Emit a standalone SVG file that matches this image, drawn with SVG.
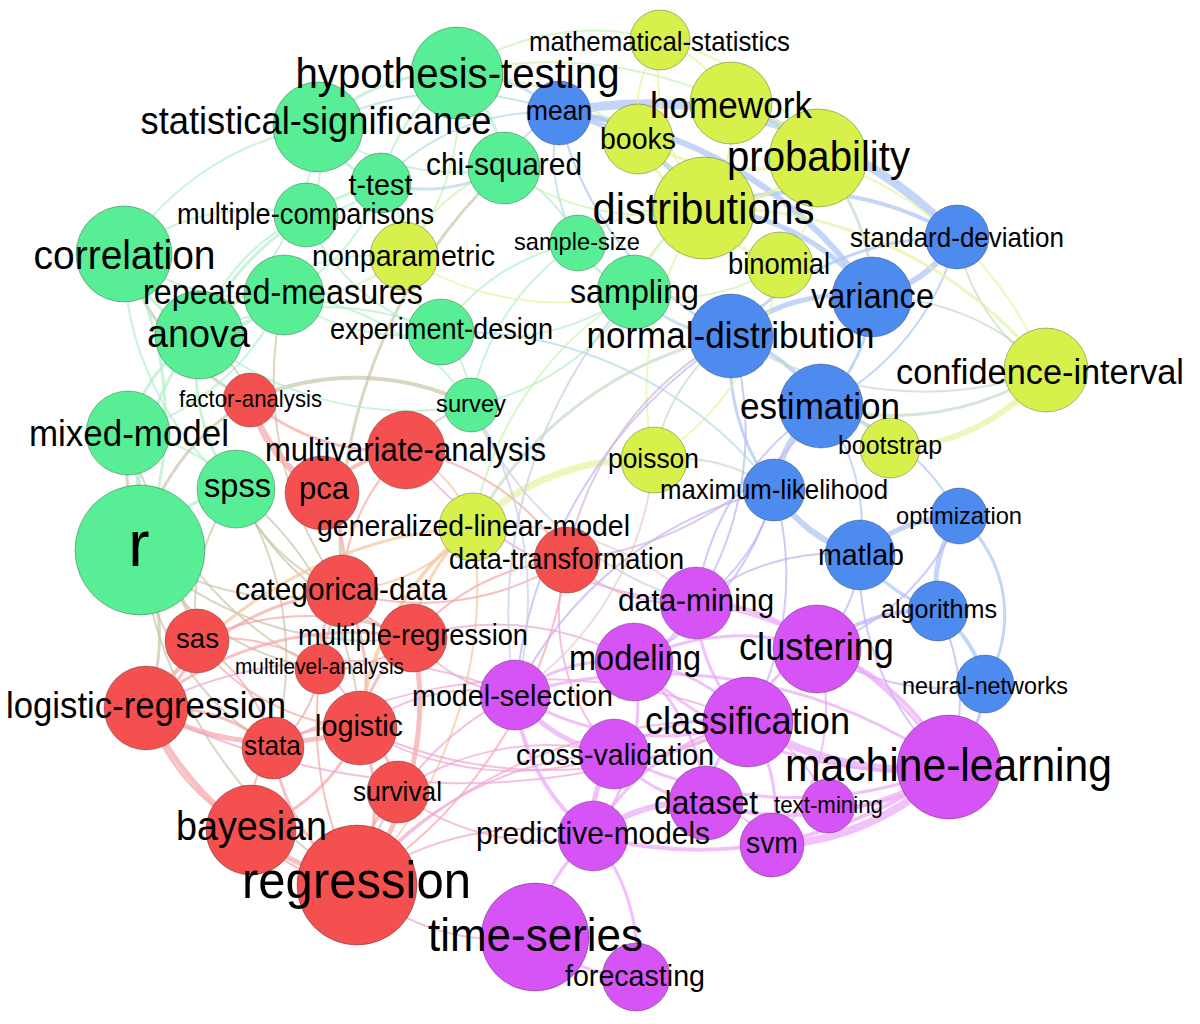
<svg xmlns="http://www.w3.org/2000/svg" width="1200" height="1024" viewBox="0 0 1200 1024">
<style>
.e{fill:none;stroke-linecap:round;stroke-opacity:.7}
.bb{stroke:#a9c5f5}.yy{stroke:#e6f4a0}.gg{stroke:#b2f0cc}.rr{stroke:#f5a5a5}.pp{stroke:#eba6f8}
.gr{stroke:#c9c4a6}.gy{stroke:#cbf2b0}.gb{stroke:#b0d8e4}.by{stroke:#c4dcc4}.bp{stroke:#bfb2f5}
.rp{stroke:#eea7d3}.ry{stroke:#f2c89a}.rb{stroke:#d2b6d2}.yp{stroke:#e8cbd4}.gp{stroke:#c8cfe2}
.n circle{stroke:#000;stroke-opacity:.28;stroke-width:1}
.G{fill:#57ee96}.Y{fill:#d8f04c}.B{fill:#4d8bef}.R{fill:#f45050}.P{fill:#d653f5}
text{font-family:"Liberation Sans",Arial,sans-serif;fill:#000;text-anchor:middle;dominant-baseline:central}
</style>
<rect width="1200" height="1024" fill="#fff"/>
<g id="edges">
<path class="e bb" stroke-width="9" d="M559 113A430 430 0 0 1 957 237"/>
<path class="e bb" stroke-width="6" d="M559 113A420 420 0 0 1 872 297"/>
<path class="e bb" stroke-width="5" d="M559 113A220 220 0 0 1 704 208"/>
<path class="e bb" stroke-width="5" d="M704 208A230 230 0 0 1 872 297"/>
<path class="e bb" stroke-width="4" d="M704 208A300 300 0 0 1 957 237"/>
<path class="e bb" stroke-width="6" d="M872 297A130 130 0 0 0 957 237"/>
<path class="e by" stroke-width="3" d="M818 158A200 200 0 0 1 872 297"/>
<path class="e bb" stroke-width="5" d="M731 336A180 180 0 0 1 872 297"/>
<path class="e bb" stroke-width="3" d="M731 336A300 300 0 0 1 957 237"/>
<path class="e bb" stroke-width="4" d="M731 336A150 150 0 0 1 821 406"/>
<path class="e bb" stroke-width="3" d="M872 297A160 160 0 0 1 821 406"/>
<path class="e bb" stroke-width="2" d="M957 237A260 260 0 0 1 821 406"/>
<path class="e bb" stroke-width="6" d="M821 406A130 130 0 0 0 774 490"/>
<path class="e bb" stroke-width="6" d="M774 490A150 150 0 0 0 860 555"/>
<path class="e bb" stroke-width="2" d="M821 406A200 200 0 0 1 860 555"/>
<path class="e bb" stroke-width="2" d="M821 406A220 220 0 0 1 959 516"/>
<path class="e bb" stroke-width="5" d="M860 555A150 150 0 0 1 959 516"/>
<path class="e bb" stroke-width="5" d="M959 516A120 120 0 0 0 938 611"/>
<path class="e bb" stroke-width="3" d="M959 516A130 130 0 0 1 985 684"/>
<path class="e bb" stroke-width="4" d="M938 611A120 120 0 0 1 985 684"/>
<path class="e bb" stroke-width="3" d="M860 555A160 160 0 0 0 938 611"/>
<path class="e bb" stroke-width="3" d="M731 336A220 220 0 0 0 774 490"/>
<path class="e bb" stroke-width="2" d="M559 113A330 330 0 0 0 731 336"/>
<path class="e bb" stroke-width="3" d="M559 113A120 120 0 0 1 638 139"/>
<path class="e by" stroke-width="3" d="M821 406A120 120 0 0 1 890 448"/>
<path class="e by" stroke-width="3" d="M821 406A280 280 0 0 0 1046 370"/>
<path class="e yy" stroke-width="6" d="M890 448A200 200 0 0 0 1046 370"/>
<path class="e by" stroke-width="2" d="M1046 370A240 240 0 0 0 872 297"/>
<path class="e by" stroke-width="2" d="M1046 370A360 360 0 0 1 731 336"/>
<path class="e by" stroke-width="2" d="M1046 370A200 200 0 0 1 957 237"/>
<path class="e yy" stroke-width="3" d="M1046 370A420 420 0 0 0 704 208"/>
<path class="e yy" stroke-width="2" d="M1046 370A360 360 0 0 0 818 158"/>
<path class="e bp" stroke-width="3" d="M985 684A130 130 0 0 1 949 767"/>
<path class="e bp" stroke-width="2" d="M938 611A200 200 0 0 1 949 767"/>
<path class="e bp" stroke-width="4" d="M938 611A170 170 0 0 0 817 649"/>
<path class="e bp" stroke-width="2" d="M860 555A140 140 0 0 1 817 649"/>
<path class="e bp" stroke-width="2" d="M860 555A220 220 0 0 0 696 603"/>
<path class="e bp" stroke-width="2" d="M817 649A220 220 0 0 0 985 684"/>
<path class="e by" stroke-width="2" d="M774 490A160 160 0 0 0 654 460"/>
<path class="e bp" stroke-width="2" d="M774 490A180 180 0 0 1 696 603"/>
<path class="e bp" stroke-width="2" d="M959 516A240 240 0 0 1 817 649"/>
<path class="e yy" stroke-width="2" d="M660 40A130 130 0 0 1 731 103"/>
<path class="e gy" stroke-width="2" d="M457 73A240 240 0 0 1 660 40"/>
<path class="e yy" stroke-width="2" d="M660 40A240 240 0 0 1 818 158"/>
<path class="e yy" stroke-width="2" d="M660 40A230 230 0 0 0 704 208"/>
<path class="e yy" stroke-width="2" d="M660 40A140 140 0 0 0 638 139"/>
<path class="e yy" stroke-width="3" d="M731 103A140 140 0 0 1 818 158"/>
<path class="e yy" stroke-width="3" d="M731 103A140 140 0 0 1 704 208"/>
<path class="e yy" stroke-width="4" d="M818 158A160 160 0 0 1 704 208"/>
<path class="e yy" stroke-width="3" d="M704 208A130 130 0 0 0 780 265"/>
<path class="e yy" stroke-width="3" d="M638 139A130 130 0 0 0 704 208"/>
<path class="e yy" stroke-width="2" d="M818 158A150 150 0 0 1 780 265"/>
<path class="e yy" stroke-width="2" d="M731 103A140 140 0 0 0 638 139"/>
<path class="e yy" stroke-width="3" d="M638 139A220 220 0 0 0 818 158"/>
<path class="e yy" stroke-width="7" d="M473 527A240 240 0 0 1 654 460"/>
<path class="e by" stroke-width="3" d="M473 527A380 380 0 0 1 731 336"/>
<path class="e gy" stroke-width="2" d="M473 527A340 340 0 0 1 634 292"/>
<path class="e yy" stroke-width="2" d="M654 460A320 320 0 0 1 704 208"/>
<path class="e by" stroke-width="2" d="M654 460A190 190 0 0 1 731 336"/>
<path class="e yy" stroke-width="2" d="M654 460A280 280 0 0 0 780 265"/>
<path class="e gy" stroke-width="3" d="M634 292A140 140 0 0 1 704 208"/>
<path class="e gb" stroke-width="3" d="M634 292A140 140 0 0 0 731 336"/>
<path class="e gy" stroke-width="2" d="M578 243A170 170 0 0 1 704 208"/>
<path class="e gg" stroke-width="3" d="M578 243A100 100 0 0 0 634 292"/>
<path class="e gb" stroke-width="2" d="M578 243A170 170 0 0 1 559 113"/>
<path class="e gg" stroke-width="2" d="M578 243A140 140 0 0 0 504 168"/>
<path class="e gy" stroke-width="2" d="M634 292A180 180 0 0 0 780 265"/>
<path class="e gy" stroke-width="2" d="M457 73A420 420 0 0 1 818 158"/>
<path class="e gy" stroke-width="2" d="M504 168A240 240 0 0 0 704 208"/>
<path class="e gy" stroke-width="2" d="M457 73A320 320 0 0 1 704 208"/>
<path class="e gg" stroke-width="3" d="M457 73A190 190 0 0 0 318 127"/>
<path class="e gg" stroke-width="3" d="M457 73A140 140 0 0 1 504 168"/>
<path class="e gg" stroke-width="2" d="M457 73A180 180 0 0 0 381 183"/>
<path class="e gb" stroke-width="3" d="M457 73A150 150 0 0 1 559 113"/>
<path class="e gy" stroke-width="2" d="M457 73A240 240 0 0 1 404 256"/>
<path class="e gg" stroke-width="3" d="M318 127A110 110 0 0 0 381 183"/>
<path class="e gg" stroke-width="2" d="M318 127A120 120 0 0 1 306 215"/>
<path class="e gg" stroke-width="2" d="M318 127A240 240 0 0 0 504 168"/>
<path class="e gg" stroke-width="2" d="M318 127A280 280 0 0 0 124 254"/>
<path class="e gg" stroke-width="2" d="M318 127A290 290 0 0 1 199 335"/>
<path class="e gg" stroke-width="3" d="M381 183A280 280 0 0 0 199 335"/>
<path class="e gb" stroke-width="3" d="M381 183A160 160 0 0 0 504 168"/>
<path class="e gg" stroke-width="2" d="M381 183A110 110 0 0 1 306 215"/>
<path class="e gy" stroke-width="2" d="M381 183A100 100 0 0 1 404 256"/>
<path class="e gg" stroke-width="2" d="M381 183A190 190 0 0 1 284 295"/>
<path class="e gg" stroke-width="2" d="M306 215A200 200 0 0 0 199 335"/>
<path class="e gg" stroke-width="2" d="M124 254A210 210 0 0 0 284 295"/>
<path class="e gg" stroke-width="3" d="M124 254A150 150 0 0 0 199 335"/>
<path class="e gr" stroke-width="3" d="M124 254A240 240 0 0 0 250 400"/>
<path class="e gg" stroke-width="3" d="M124 254A350 350 0 0 1 140 550"/>
<path class="e gg" stroke-width="4" d="M284 295A130 130 0 0 1 199 335"/>
<path class="e gg" stroke-width="2" d="M284 295A250 250 0 0 1 128 433"/>
<path class="e gg" stroke-width="3" d="M199 335A160 160 0 0 0 128 433"/>
<path class="e gg" stroke-width="2" d="M199 335A290 290 0 0 1 441 332"/>
<path class="e gg" stroke-width="3" d="M199 335A270 270 0 0 0 140 550"/>
<path class="e gg" stroke-width="2" d="M284 295A200 200 0 0 0 441 332"/>
<path class="e gg" stroke-width="2" d="M441 332A110 110 0 0 1 471 405"/>
<path class="e gg" stroke-width="2" d="M441 332A210 210 0 0 1 578 243"/>
<path class="e gg" stroke-width="2" d="M441 332A240 240 0 0 0 634 292"/>
<path class="e gy" stroke-width="2" d="M441 332A110 110 0 0 1 404 256"/>
<path class="e gr" stroke-width="3" d="M504 168A520 520 0 0 0 342 591"/>
<path class="e gb" stroke-width="2" d="M504 168A110 110 0 0 1 559 113"/>
<path class="e gg" stroke-width="2" d="M471 405A240 240 0 0 1 578 243"/>
<path class="e gg" stroke-width="2" d="M471 405A240 240 0 0 0 634 292"/>
<path class="e gg" stroke-width="5" d="M128 433A300 300 0 0 1 140 550"/>
<path class="e gr" stroke-width="3" d="M128 433A300 300 0 0 0 140 550"/>
<path class="e gg" stroke-width="2" d="M128 433A160 160 0 0 1 236 489"/>
<path class="e gg" stroke-width="3" d="M236 489A150 150 0 0 0 140 550"/>
<path class="e gg" stroke-width="3" d="M236 489A200 200 0 0 1 199 335"/>
<path class="e gr" stroke-width="4" d="M140 550A150 150 0 0 1 197 641"/>
<path class="e gr" stroke-width="3" d="M140 550A200 200 0 0 1 146 708"/>
<path class="e gr" stroke-width="2" d="M140 550A280 280 0 0 0 273 748"/>
<path class="e gr" stroke-width="2" d="M140 550A250 250 0 0 0 342 591"/>
<path class="e gr" stroke-width="2" d="M140 550A260 260 0 0 0 320 669"/>
<path class="e gr" stroke-width="3" d="M140 550A230 230 0 0 1 250 400"/>
<path class="e gr" stroke-width="2" d="M140 550A340 340 0 0 0 413 638"/>
<path class="e gr" stroke-width="2" d="M140 550A460 460 0 0 0 357 885"/>
<path class="e gr" stroke-width="2" d="M236 489A200 200 0 0 0 197 641"/>
<path class="e gr" stroke-width="2" d="M236 489A310 310 0 0 1 273 748"/>
<path class="e gr" stroke-width="2" d="M236 489A190 190 0 0 0 342 591"/>
<path class="e gr" stroke-width="2" d="M236 489A280 280 0 0 0 413 638"/>
<path class="e gr" stroke-width="2" d="M236 489A320 320 0 0 1 360 728"/>
<path class="e gr" stroke-width="2" d="M284 295A360 360 0 0 0 342 591"/>
<path class="e gr" stroke-width="2" d="M199 335A120 120 0 0 1 250 400"/>
<path class="e gr" stroke-width="2" d="M128 433A360 360 0 0 0 320 669"/>
<path class="e gr" stroke-width="4" d="M250 400A260 260 0 0 1 471 405"/>
<path class="e gr" stroke-width="2" d="M471 405A130 130 0 0 0 406 450"/>
<path class="e gg" stroke-width="2" d="M124 254A300 300 0 0 0 236 489"/>
<path class="e gg" stroke-width="2" d="M199 335A330 330 0 0 0 471 405"/>
<path class="e gg" stroke-width="2" d="M284 295A250 250 0 0 1 471 405"/>
<path class="e gg" stroke-width="2" d="M306 215A200 200 0 0 0 441 332"/>
<path class="e gg" stroke-width="2" d="M124 254A220 220 0 0 1 306 215"/>
<path class="e gy" stroke-width="2" d="M404 256A250 250 0 0 0 199 335"/>
<path class="e gy" stroke-width="2" d="M404 256A160 160 0 0 1 284 295"/>
<path class="e yy" stroke-width="2" d="M404 256A280 280 0 0 0 634 292"/>
<path class="e gy" stroke-width="2" d="M404 256A170 170 0 0 1 504 168"/>
<path class="e rr" stroke-width="3" d="M250 400A210 210 0 0 0 406 450"/>
<path class="e rr" stroke-width="7" d="M250 400A160 160 0 0 0 322 493"/>
<path class="e rr" stroke-width="4" d="M322 493A130 130 0 0 1 406 450"/>
<path class="e rr" stroke-width="2" d="M406 450A200 200 0 0 0 342 591"/>
<path class="e rr" stroke-width="3" d="M322 493A130 130 0 0 1 342 591"/>
<path class="e rr" stroke-width="3" d="M342 591A120 120 0 0 0 413 638"/>
<path class="e rr" stroke-width="3" d="M342 591A180 180 0 0 1 360 728"/>
<path class="e rr" stroke-width="3" d="M342 591A280 280 0 0 0 146 708"/>
<path class="e rr" stroke-width="2" d="M342 591A350 350 0 0 0 357 885"/>
<path class="e rr" stroke-width="5" d="M413 638A300 300 0 0 1 357 885"/>
<path class="e rr" stroke-width="3" d="M413 638A140 140 0 0 0 360 728"/>
<path class="e rr" stroke-width="3" d="M413 638A320 320 0 0 0 146 708"/>
<path class="e rr" stroke-width="2" d="M413 638A130 130 0 0 1 320 669"/>
<path class="e rr" stroke-width="5" d="M360 728A260 260 0 0 1 146 708"/>
<path class="e rr" stroke-width="5" d="M146 708A330 330 0 0 0 357 885"/>
<path class="e rr" stroke-width="3" d="M146 708A170 170 0 0 1 273 748"/>
<path class="e rr" stroke-width="3" d="M146 708A110 110 0 0 0 197 641"/>
<path class="e rr" stroke-width="3" d="M146 708A210 210 0 0 0 251 830"/>
<path class="e rr" stroke-width="2" d="M273 748A170 170 0 0 0 197 641"/>
<path class="e rr" stroke-width="3" d="M273 748A120 120 0 0 1 360 728"/>
<path class="e rr" stroke-width="2" d="M273 748A120 120 0 0 0 320 669"/>
<path class="e rr" stroke-width="3" d="M273 748A200 200 0 0 0 357 885"/>
<path class="e rr" stroke-width="2" d="M197 641A220 220 0 0 0 360 728"/>
<path class="e rr" stroke-width="2" d="M197 641A260 260 0 0 1 413 638"/>
<path class="e rr" stroke-width="2" d="M197 641A160 160 0 0 1 320 669"/>
<path class="e rr" stroke-width="3" d="M360 728A100 100 0 0 1 398 792"/>
<path class="e rr" stroke-width="3" d="M398 792A140 140 0 0 0 357 885"/>
<path class="e rr" stroke-width="3" d="M360 728A200 200 0 0 1 357 885"/>
<path class="e rr" stroke-width="2" d="M251 830A150 150 0 0 0 357 885"/>
<path class="e rr" stroke-width="2" d="M251 830A110 110 0 0 1 273 748"/>
<path class="e rr" stroke-width="3" d="M251 830A180 180 0 0 0 360 728"/>
<path class="e rr" stroke-width="2" d="M320 669A100 100 0 0 1 360 728"/>
<path class="e rr" stroke-width="2" d="M320 669A110 110 0 0 1 342 591"/>
<path class="e ry" stroke-width="3" d="M473 527A430 430 0 0 0 146 708"/>
<path class="e ry" stroke-width="4" d="M473 527A280 280 0 0 0 360 728"/>
<path class="e ry" stroke-width="2" d="M473 527A430 430 0 0 1 357 885"/>
<path class="e ry" stroke-width="3" d="M473 527A160 160 0 0 0 413 638"/>
<path class="e ry" stroke-width="2" d="M473 527A190 190 0 0 1 342 591"/>
<path class="e ry" stroke-width="2" d="M473 527A130 130 0 0 0 406 450"/>
<path class="e rr" stroke-width="2" d="M567 560A220 220 0 0 0 413 638"/>
<path class="e rr" stroke-width="2" d="M567 560A460 460 0 0 1 357 885"/>
<path class="e rr" stroke-width="2" d="M567 560A270 270 0 0 1 342 591"/>
<path class="e rr" stroke-width="2" d="M567 560A240 240 0 0 0 406 450"/>
<path class="e rp" stroke-width="2" d="M357 885A300 300 0 0 1 515 695"/>
<path class="e rp" stroke-width="2" d="M357 885A340 340 0 0 1 614 754"/>
<path class="e rp" stroke-width="2" d="M357 885A290 290 0 0 1 593 836"/>
<path class="e rp" stroke-width="2" d="M357 885A220 220 0 0 0 535 937"/>
<path class="e rp" stroke-width="2" d="M357 885A480 480 0 0 1 748 722"/>
<path class="e rp" stroke-width="2" d="M360 728A440 440 0 0 0 748 722"/>
<path class="e rp" stroke-width="2" d="M360 728A190 190 0 0 1 515 695"/>
<path class="e rp" stroke-width="2" d="M360 728A300 300 0 0 0 614 754"/>
<path class="e rp" stroke-width="2" d="M273 748A540 540 0 0 1 748 722"/>
<path class="e rp" stroke-width="2" d="M146 708A700 700 0 0 0 748 722"/>
<path class="e rp" stroke-width="2" d="M146 708A440 440 0 0 1 515 695"/>
<path class="e rp" stroke-width="2" d="M398 792A240 240 0 0 0 593 836"/>
<path class="e rp" stroke-width="2" d="M398 792A260 260 0 0 1 614 754"/>
<path class="e rp" stroke-width="2" d="M413 638A150 150 0 0 0 515 695"/>
<path class="e rp" stroke-width="2" d="M413 638A270 270 0 0 1 634 662"/>
<path class="e rp" stroke-width="2" d="M406 450A400 400 0 0 0 696 603"/>
<path class="e rp" stroke-width="2" d="M567 560A170 170 0 0 0 696 603"/>
<path class="e rp" stroke-width="2" d="M567 560A200 200 0 0 0 614 754"/>
<path class="e pp" stroke-width="8" d="M748 722A300 300 0 0 0 949 767"/>
<path class="e pp" stroke-width="8" d="M772 845A260 260 0 0 0 949 767"/>
<path class="e pp" stroke-width="4" d="M817 649A220 220 0 0 1 949 767"/>
<path class="e pp" stroke-width="4" d="M696 603A170 170 0 0 1 817 649"/>
<path class="e pp" stroke-width="3" d="M696 603A350 350 0 0 1 949 767"/>
<path class="e pp" stroke-width="3" d="M696 603A120 120 0 0 1 634 662"/>
<path class="e pp" stroke-width="3" d="M696 603A170 170 0 0 0 748 722"/>
<path class="e pp" stroke-width="3" d="M634 662A170 170 0 0 1 748 722"/>
<path class="e pp" stroke-width="3" d="M634 662A230 230 0 0 1 817 649"/>
<path class="e pp" stroke-width="3" d="M634 662A160 160 0 0 0 515 695"/>
<path class="e pp" stroke-width="3" d="M634 662A380 380 0 0 0 949 767"/>
<path class="e pp" stroke-width="5" d="M515 695A150 150 0 0 0 614 754"/>
<path class="e pp" stroke-width="3" d="M515 695A500 500 0 0 1 949 767"/>
<path class="e pp" stroke-width="4" d="M515 695A200 200 0 0 0 593 836"/>
<path class="e pp" stroke-width="3" d="M515 695A280 280 0 0 0 748 722"/>
<path class="e pp" stroke-width="3" d="M614 754A180 180 0 0 1 748 722"/>
<path class="e pp" stroke-width="5" d="M614 754A120 120 0 0 0 593 836"/>
<path class="e pp" stroke-width="3" d="M614 754A140 140 0 0 0 706 803"/>
<path class="e pp" stroke-width="3" d="M614 754A400 400 0 0 0 949 767"/>
<path class="e pp" stroke-width="6" d="M593 836A160 160 0 0 1 706 803"/>
<path class="e pp" stroke-width="4" d="M593 836A420 420 0 0 0 949 767"/>
<path class="e pp" stroke-width="3" d="M593 836A230 230 0 0 1 748 722"/>
<path class="e pp" stroke-width="4" d="M706 803A290 290 0 0 0 949 767"/>
<path class="e pp" stroke-width="3" d="M706 803A120 120 0 0 1 748 722"/>
<path class="e pp" stroke-width="2" d="M706 803A110 110 0 0 1 772 845"/>
<path class="e pp" stroke-width="3" d="M748 722A160 160 0 0 1 772 845"/>
<path class="e pp" stroke-width="3" d="M828 806A160 160 0 0 0 949 767"/>
<path class="e pp" stroke-width="2" d="M828 806A150 150 0 0 0 748 722"/>
<path class="e pp" stroke-width="3" d="M593 836A160 160 0 0 0 535 937"/>
<path class="e pp" stroke-width="3" d="M593 836A190 190 0 0 1 636 977"/>
<path class="e pp" stroke-width="3" d="M535 937A150 150 0 0 0 636 977"/>
<path class="e pp" stroke-width="3" d="M817 649A130 130 0 0 0 748 722"/>
<path class="e pp" stroke-width="3" d="M634 662A220 220 0 0 1 593 836"/>
<path class="e pp" stroke-width="3" d="M634 662A200 200 0 0 1 706 803"/>
<path class="e pp" stroke-width="2" d="M817 649A200 200 0 0 1 772 845"/>
<path class="e bp" stroke-width="2" d="M731 336A480 480 0 0 0 515 695"/>
<path class="e bp" stroke-width="2" d="M731 336A320 320 0 0 1 696 603"/>
<path class="e bp" stroke-width="2" d="M821 406A280 280 0 0 0 696 603"/>
<path class="e bp" stroke-width="2" d="M774 490A380 380 0 0 0 515 695"/>
<path class="e bp" stroke-width="2" d="M774 490A260 260 0 0 1 634 662"/>
<path class="e bp" stroke-width="2" d="M860 555A270 270 0 0 0 949 767"/>
<path class="e bp" stroke-width="2" d="M774 490A300 300 0 0 1 748 722"/>
<path class="e gp" stroke-width="2" d="M634 292A480 480 0 0 0 515 695"/>
<path class="e yp" stroke-width="2" d="M654 460A320 320 0 0 1 515 695"/>
<path class="e yp" stroke-width="2" d="M473 527A280 280 0 0 1 696 603"/>
<path class="e gp" stroke-width="2" d="M471 405A350 350 0 0 0 696 603"/>
<path class="e gp" stroke-width="2" d="M471 405A360 360 0 0 1 515 695"/>
<path class="e gb" stroke-width="2" d="M441 332A400 400 0 0 1 774 490"/>
<path class="e rb" stroke-width="2" d="M567 560A320 320 0 0 1 731 336"/>
<path class="e rb" stroke-width="2" d="M567 560A340 340 0 0 0 821 406"/>
<path class="e gb" stroke-width="2" d="M381 183A220 220 0 0 1 559 113"/>
<path class="e gb" stroke-width="2" d="M318 127A290 290 0 0 1 559 113"/>
</g>
<g id="nodes">
<g id="node-hypothesis-testing" class="n"><circle class="G" cx="457" cy="73" r="46"/></g>
<g id="node-statistical-significance" class="n"><circle class="G" cx="318" cy="127" r="45"/></g>
<g id="node-t-test" class="n"><circle class="G" cx="381" cy="183" r="30"/></g>
<g id="node-chi-squared" class="n"><circle class="G" cx="504" cy="168" r="36"/></g>
<g id="node-multiple-comparisons" class="n"><circle class="G" cx="306" cy="215" r="32"/></g>
<g id="node-correlation" class="n"><circle class="G" cx="124" cy="254" r="48"/></g>
<g id="node-repeated-measures" class="n"><circle class="G" cx="284" cy="295" r="40"/></g>
<g id="node-anova" class="n"><circle class="G" cx="199" cy="335" r="44"/></g>
<g id="node-experiment-design" class="n"><circle class="G" cx="441" cy="332" r="33"/></g>
<g id="node-sample-size" class="n"><circle class="G" cx="578" cy="243" r="28"/></g>
<g id="node-sampling" class="n"><circle class="G" cx="634" cy="292" r="37"/></g>
<g id="node-survey" class="n"><circle class="G" cx="471" cy="405" r="27"/></g>
<g id="node-mixed-model" class="n"><circle class="G" cx="128" cy="433" r="42"/></g>
<g id="node-spss" class="n"><circle class="G" cx="236" cy="489" r="39"/></g>
<g id="node-r" class="n"><circle class="G" cx="140" cy="550" r="65"/></g>
<g id="node-mathematical-statistics" class="n"><circle class="Y" cx="660" cy="40" r="30"/></g>
<g id="node-homework" class="n"><circle class="Y" cx="731" cy="103" r="41"/></g>
<g id="node-books" class="n"><circle class="Y" cx="638" cy="139" r="35"/></g>
<g id="node-probability" class="n"><circle class="Y" cx="818" cy="158" r="49"/></g>
<g id="node-distributions" class="n"><circle class="Y" cx="704" cy="208" r="51"/></g>
<g id="node-nonparametric" class="n"><circle class="Y" cx="404" cy="256" r="34"/></g>
<g id="node-binomial" class="n"><circle class="Y" cx="780" cy="265" r="33"/></g>
<g id="node-confidence-interval" class="n"><circle class="Y" cx="1046" cy="370" r="42"/></g>
<g id="node-poisson" class="n"><circle class="Y" cx="654" cy="460" r="33"/></g>
<g id="node-bootstrap" class="n"><circle class="Y" cx="890" cy="448" r="30"/></g>
<g id="node-generalized-linear-model" class="n"><circle class="Y" cx="473" cy="527" r="34"/></g>
<g id="node-mean" class="n"><circle class="B" cx="559" cy="113" r="32"/></g>
<g id="node-standard-deviation" class="n"><circle class="B" cx="957" cy="237" r="32"/></g>
<g id="node-variance" class="n"><circle class="B" cx="872" cy="297" r="40"/></g>
<g id="node-normal-distribution" class="n"><circle class="B" cx="731" cy="336" r="42"/></g>
<g id="node-estimation" class="n"><circle class="B" cx="821" cy="406" r="42"/></g>
<g id="node-maximum-likelihood" class="n"><circle class="B" cx="774" cy="490" r="31"/></g>
<g id="node-optimization" class="n"><circle class="B" cx="959" cy="516" r="28"/></g>
<g id="node-matlab" class="n"><circle class="B" cx="860" cy="555" r="35"/></g>
<g id="node-algorithms" class="n"><circle class="B" cx="938" cy="611" r="30"/></g>
<g id="node-neural-networks" class="n"><circle class="B" cx="985" cy="684" r="29"/></g>
<g id="node-factor-analysis" class="n"><circle class="R" cx="250" cy="400" r="27"/></g>
<g id="node-multivariate-analysis" class="n"><circle class="R" cx="406" cy="450" r="39"/></g>
<g id="node-pca" class="n"><circle class="R" cx="322" cy="493" r="37"/></g>
<g id="node-data-transformation" class="n"><circle class="R" cx="567" cy="560" r="33"/></g>
<g id="node-categorical-data" class="n"><circle class="R" cx="342" cy="591" r="36"/></g>
<g id="node-multiple-regression" class="n"><circle class="R" cx="413" cy="638" r="34"/></g>
<g id="node-sas" class="n"><circle class="R" cx="197" cy="641" r="32"/></g>
<g id="node-multilevel-analysis" class="n"><circle class="R" cx="320" cy="669" r="25"/></g>
<g id="node-logistic-regression" class="n"><circle class="R" cx="146" cy="708" r="42"/></g>
<g id="node-logistic" class="n"><circle class="R" cx="360" cy="728" r="37"/></g>
<g id="node-stata" class="n"><circle class="R" cx="273" cy="748" r="31"/></g>
<g id="node-survival" class="n"><circle class="R" cx="398" cy="792" r="31"/></g>
<g id="node-bayesian" class="n"><circle class="R" cx="251" cy="830" r="45"/></g>
<g id="node-regression" class="n"><circle class="R" cx="357" cy="885" r="60"/></g>
<g id="node-data-mining" class="n"><circle class="P" cx="696" cy="603" r="36"/></g>
<g id="node-modeling" class="n"><circle class="P" cx="634" cy="662" r="39"/></g>
<g id="node-clustering" class="n"><circle class="P" cx="817" cy="649" r="44"/></g>
<g id="node-model-selection" class="n"><circle class="P" cx="515" cy="695" r="35"/></g>
<g id="node-classification" class="n"><circle class="P" cx="748" cy="722" r="45"/></g>
<g id="node-cross-validation" class="n"><circle class="P" cx="614" cy="754" r="35"/></g>
<g id="node-machine-learning" class="n"><circle class="P" cx="949" cy="767" r="52"/></g>
<g id="node-dataset" class="n"><circle class="P" cx="706" cy="803" r="37"/></g>
<g id="node-text-mining" class="n"><circle class="P" cx="828" cy="806" r="27"/></g>
<g id="node-svm" class="n"><circle class="P" cx="772" cy="845" r="32"/></g>
<g id="node-predictive-models" class="n"><circle class="P" cx="593" cy="836" r="35"/></g>
<g id="node-time-series" class="n"><circle class="P" cx="535" cy="937" r="54"/></g>
<g id="node-forecasting" class="n"><circle class="P" cx="636" cy="977" r="34"/></g>
</g>
<g id="labels" style="font-kerning:none">
<text x="457.5" y="73" font-size="42.8" textLength="324" lengthAdjust="spacingAndGlyphs">hypothesis-testing</text>
<text x="316" y="120" font-size="38.5" textLength="351" lengthAdjust="spacingAndGlyphs">statistical-significance</text>
<text x="659.5" y="41" font-size="27.3" textLength="261" lengthAdjust="spacingAndGlyphs">mathematical-statistics</text>
<text x="559" y="110" font-size="27.4" textLength="66" lengthAdjust="spacingAndGlyphs">mean</text>
<text x="731" y="105" font-size="37" textLength="162" lengthAdjust="spacingAndGlyphs">homework</text>
<text x="638" y="138" font-size="29.6" textLength="76" lengthAdjust="spacingAndGlyphs">books</text>
<text x="818.5" y="156" font-size="42.3" textLength="183" lengthAdjust="spacingAndGlyphs">probability</text>
<text x="504" y="164" font-size="31.5" textLength="156" lengthAdjust="spacingAndGlyphs">chi-squared</text>
<text x="380.5" y="184" font-size="29.5" textLength="64" lengthAdjust="spacingAndGlyphs">t-test</text>
<text x="305.5" y="214" font-size="28.9" textLength="257" lengthAdjust="spacingAndGlyphs">multiple-comparisons</text>
<text x="703.5" y="208" font-size="44" textLength="222" lengthAdjust="spacingAndGlyphs">distributions</text>
<text x="124.5" y="255" font-size="41" textLength="182" lengthAdjust="spacingAndGlyphs">correlation</text>
<text x="403.5" y="255" font-size="30.3" textLength="183" lengthAdjust="spacingAndGlyphs">nonparametric</text>
<text x="577" y="241" font-size="24.8" textLength="126" lengthAdjust="spacingAndGlyphs">sample-size</text>
<text x="957" y="237" font-size="27.6" textLength="214" lengthAdjust="spacingAndGlyphs">standard-deviation</text>
<text x="779" y="264" font-size="28.8" textLength="102" lengthAdjust="spacingAndGlyphs">binomial</text>
<text x="283" y="292" font-size="34.3" textLength="280" lengthAdjust="spacingAndGlyphs">repeated-measures</text>
<text x="634.5" y="291" font-size="34" textLength="129" lengthAdjust="spacingAndGlyphs">sampling</text>
<text x="872.5" y="296" font-size="34.2" textLength="123" lengthAdjust="spacingAndGlyphs">variance</text>
<text x="198.5" y="333" font-size="39.6" textLength="103" lengthAdjust="spacingAndGlyphs">anova</text>
<text x="441.5" y="329" font-size="28.8" textLength="223" lengthAdjust="spacingAndGlyphs">experiment-design</text>
<text x="730.5" y="335" font-size="37.1" textLength="288" lengthAdjust="spacingAndGlyphs">normal-distribution</text>
<text x="1040" y="371" font-size="34.8" textLength="288" lengthAdjust="spacingAndGlyphs">confidence-interval</text>
<text x="250.5" y="399" font-size="23.4" textLength="143" lengthAdjust="spacingAndGlyphs">factor-analysis</text>
<text x="471" y="403" font-size="24.6" textLength="70" lengthAdjust="spacingAndGlyphs">survey</text>
<text x="820" y="406" font-size="37.1" textLength="160" lengthAdjust="spacingAndGlyphs">estimation</text>
<text x="129" y="433" font-size="37" textLength="200" lengthAdjust="spacingAndGlyphs">mixed-model</text>
<text x="405.5" y="449" font-size="33" textLength="281" lengthAdjust="spacingAndGlyphs">multivariate-analysis</text>
<text x="653.5" y="458" font-size="27.6" textLength="91" lengthAdjust="spacingAndGlyphs">poisson</text>
<text x="890" y="445" font-size="26.2" textLength="104" lengthAdjust="spacingAndGlyphs">bootstrap</text>
<text x="237.5" y="485" font-size="33.8" textLength="67" lengthAdjust="spacingAndGlyphs">spss</text>
<text x="324" y="488" font-size="32" textLength="50" lengthAdjust="spacingAndGlyphs">pca</text>
<text x="774" y="489" font-size="27.4" textLength="228" lengthAdjust="spacingAndGlyphs">maximum-likelihood</text>
<text x="959" y="515" font-size="24" textLength="126" lengthAdjust="spacingAndGlyphs">optimization</text>
<text x="473.5" y="525" font-size="30.3" textLength="313" lengthAdjust="spacingAndGlyphs">generalized-linear-model</text>
<text x="139" y="544" font-size="64">r</text>
<text x="566.5" y="559" font-size="28.8" textLength="235" lengthAdjust="spacingAndGlyphs">data-transformation</text>
<text x="861" y="554" font-size="30" textLength="86" lengthAdjust="spacingAndGlyphs">matlab</text>
<text x="341" y="589" font-size="31.6" textLength="212" lengthAdjust="spacingAndGlyphs">categorical-data</text>
<text x="696" y="600" font-size="31.6" textLength="156" lengthAdjust="spacingAndGlyphs">data-mining</text>
<text x="939" y="609" font-size="26.4" textLength="116" lengthAdjust="spacingAndGlyphs">algorithms</text>
<text x="197.5" y="638" font-size="28.1" textLength="43" lengthAdjust="spacingAndGlyphs">sas</text>
<text x="413" y="635" font-size="28.9" textLength="230" lengthAdjust="spacingAndGlyphs">multiple-regression</text>
<text x="635" y="658" font-size="34.2" textLength="132" lengthAdjust="spacingAndGlyphs">modeling</text>
<text x="816.5" y="646" font-size="38.3" textLength="155" lengthAdjust="spacingAndGlyphs">clustering</text>
<text x="319.5" y="666" font-size="22" textLength="169" lengthAdjust="spacingAndGlyphs">multilevel-analysis</text>
<text x="985" y="685" font-size="24.6" textLength="166" lengthAdjust="spacingAndGlyphs">neural-networks</text>
<text x="146" y="705" font-size="36.9" textLength="280" lengthAdjust="spacingAndGlyphs">logistic-regression</text>
<text x="512.5" y="695" font-size="30.4" textLength="201" lengthAdjust="spacingAndGlyphs">model-selection</text>
<text x="747.5" y="720" font-size="38.3" textLength="205" lengthAdjust="spacingAndGlyphs">classification</text>
<text x="359" y="725" font-size="30" textLength="88" lengthAdjust="spacingAndGlyphs">logistic</text>
<text x="272.5" y="745" font-size="27.2" textLength="57" lengthAdjust="spacingAndGlyphs">stata</text>
<text x="615" y="754" font-size="30.2" textLength="198" lengthAdjust="spacingAndGlyphs">cross-validation</text>
<text x="948.5" y="765" font-size="45.4" textLength="327" lengthAdjust="spacingAndGlyphs">machine-learning</text>
<text x="397.5" y="791" font-size="27.5" textLength="89" lengthAdjust="spacingAndGlyphs">survival</text>
<text x="706" y="802" font-size="33.2" textLength="104" lengthAdjust="spacingAndGlyphs">dataset</text>
<text x="828.5" y="805" font-size="23.4" textLength="109" lengthAdjust="spacingAndGlyphs">text-mining</text>
<text x="772" y="843" font-size="29.2" textLength="52" lengthAdjust="spacingAndGlyphs">svm</text>
<text x="593" y="833" font-size="31.7" textLength="234" lengthAdjust="spacingAndGlyphs">predictive-models</text>
<text x="251.5" y="826" font-size="39.8" textLength="151" lengthAdjust="spacingAndGlyphs">bayesian</text>
<text x="356.5" y="880" font-size="52" textLength="229" lengthAdjust="spacingAndGlyphs">regression</text>
<text x="535.5" y="935" font-size="46.7" textLength="215" lengthAdjust="spacingAndGlyphs">time-series</text>
<text x="635" y="975" font-size="30.2" textLength="140" lengthAdjust="spacingAndGlyphs">forecasting</text>
</g>
</svg>
